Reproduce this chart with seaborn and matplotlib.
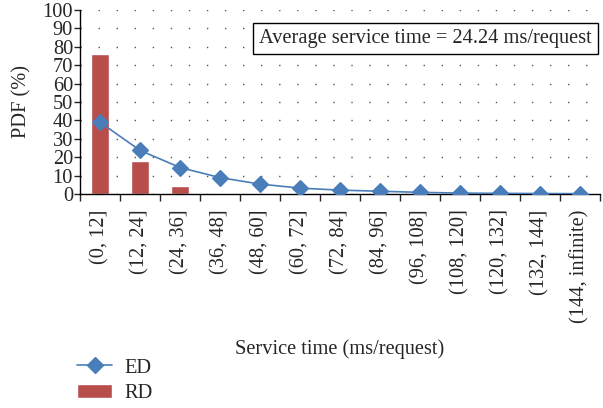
import numpy as np
import pandas as pd
import matplotlib
matplotlib.use('Agg')
import matplotlib.pyplot as plt
import seaborn as sns
from matplotlib.lines import Line2D
from matplotlib.patches import Patch

# bins of service time (ms/request)
bins = ['(0, 12]', '(12, 24]', '(24, 36]', '(36, 48]', '(48, 60]', '(60, 72]',
        '(72, 84]', '(84, 96]', '(96, 108]', '(108, 120]', '(120, 132]',
        '(132, 144]', '(144, infinite)']
rd = [76, 18, 4.5, 0.7, 0, 0, 0, 0, 0, 0, 0, 0, 0]
ed = [39, 23.7, 14.4, 8.9, 5.4, 3.2, 2.1, 1.5, 0.9, 0.5, 0.35, 0.25, 0.2]

df = pd.DataFrame({'bin': bins, 'RD': rd, 'ED': ed})

sns.set_style('ticks')
plt.rcParams['font.family'] = ['Liberation Serif', 'DejaVu Serif']

red = '#B84E4C'
blue = '#4A7EBB'
fs = 14.7

fig = plt.figure(figsize=(6.03, 4.08), dpi=100)
ax = fig.add_axes([80 / 603, 1 - 194 / 408, 520 / 603, 184 / 408])

sns.barplot(data=df, x='bin', y='RD', color=red, width=0.43, saturation=1, ax=ax, zorder=2)
sns.pointplot(data=df, x='bin', y='ED', color=blue, markers='D', linewidth=1.2,
              markersize=8.5, ax=ax, zorder=3)

ax.set_xlim(-0.5, 12.5)
ax.set_ylim(0, 100)
ax.set_yticks(range(0, 101, 10))
ax.yaxis.grid(True, linestyle=(0, (1, 12)), color='#555555', linewidth=1)
ax.set_axisbelow(True)
for s in ['top', 'right']:
    ax.spines[s].set_visible(False)
ax.set_xticks(np.arange(-0.5, 13, 1), minor=True)
ax.tick_params(axis='x', which='major', length=0, pad=11)
ax.tick_params(axis='x', which='minor', length=5, width=1, direction='out')
ax.tick_params(axis='y', length=4, width=1, direction='out', pad=1)
plt.setp(ax.get_xticklabels(), rotation=90, fontsize=fs)
plt.setp(ax.get_yticklabels(), fontsize=fs)
ax.set_ylabel('PDF (%)', fontsize=fs, labelpad=8)
ax.set_xlabel('Service time (ms/request)', fontsize=fs, labelpad=12)
for s in ['left', 'bottom']:
    ax.spines[s].set_color('black')
    ax.spines[s].set_linewidth(1)

ax.text(0.665, 0.845, 'Average service time = 24.24 ms/request', transform=ax.transAxes,
        ha='center', va='center', fontsize=fs,
        bbox=dict(boxstyle='square,pad=0.3', facecolor='white', edgecolor='black', linewidth=1))

handles = [Line2D([], [], color=blue, marker='D', markersize=8.5, linewidth=1.2),
           Patch(facecolor=red)]
fig.legend(handles, ['ED', 'RD'], loc='upper left', bbox_to_anchor=(63 / 603, 1 - 344 / 408),
           frameon=False, fontsize=fs, handlelength=1.7, handletextpad=0.6, labelspacing=0.3,
           borderpad=0.2)

fig.savefig('out.png', dpi=100)
